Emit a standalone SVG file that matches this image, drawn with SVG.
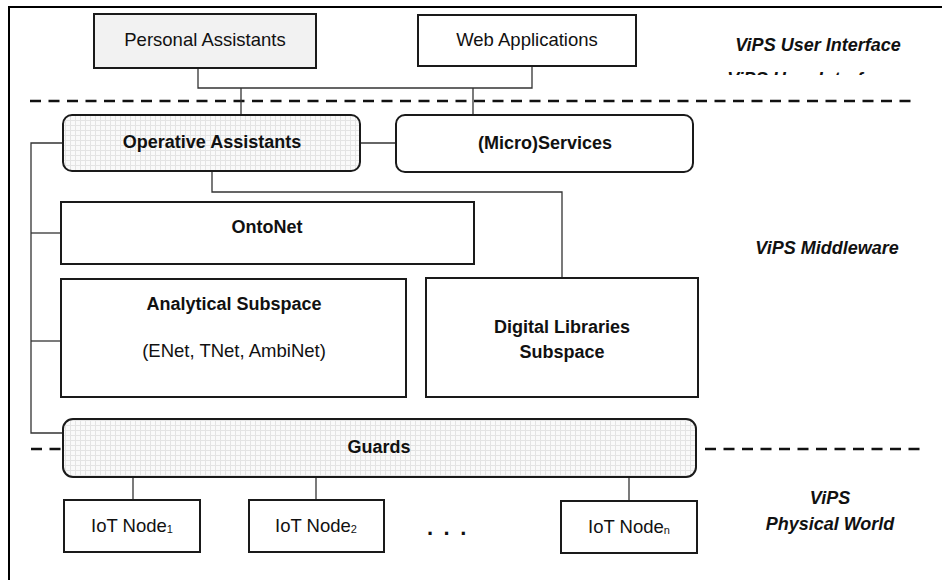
<svg xmlns="http://www.w3.org/2000/svg" width="942" height="580" viewBox="0 0 942 580">
  <defs>
    <pattern id="grid" width="5" height="5" patternUnits="userSpaceOnUse">
      <rect width="5" height="5" fill="#fafafa"/>
      <path d="M0 0.5 H5 M0.5 0 V5" stroke="#e4e4e4" stroke-width="1" fill="none"/>
    </pattern>
    <clipPath id="clipGhost">
      <rect x="700" y="70" width="220" height="5"/>
    </clipPath>
  </defs>
  <style>
    .box { fill: #ffffff; stroke: #1a1a1a; stroke-width: 2; }
    .gray { fill: #f2f2f2; }
    .mesh { fill: url(#grid); }
    .conn { stroke: #333333; stroke-width: 1.3; fill: none; }
    .dash { stroke: #111111; stroke-width: 2.5; stroke-dasharray: 11 7.5; fill: none; }
    .frame { stroke: #000000; stroke-width: 2; fill: none; }
    .t { font-family: "Liberation Sans", Arial, sans-serif; font-size: 18.5px; fill: #111111; text-anchor: middle; }
    .b { font-weight: bold; font-size: 18px; }
    .lbl { font-family: "Liberation Sans", Arial, sans-serif; font-size: 18px; font-weight: bold; font-style: italic; fill: #111111; text-anchor: middle; }
    .sub { font-size: 11px; }
    .dots { font-family: "Liberation Sans", Arial, sans-serif; font-size: 22px; font-weight: bold; fill: #111111; letter-spacing: 2.2px; }
  </style>

  <!-- frame -->
  <path class="frame" d="M9 580 V7 H942"/>

  <!-- layer separators -->
  <line class="dash" x1="30" y1="101" x2="916" y2="101"/>
  <line class="dash" x1="31" y1="449" x2="63" y2="449"/>
  <line class="dash" x1="705" y1="449" x2="920" y2="449"/>

  <!-- connectors -->
  <g id="connectors">
    <path class="conn" d="M198 68 V88 H532 V66"/>
    <path class="conn" d="M241 88 V115"/>
    <path class="conn" d="M473 88 V115"/>
    <path class="conn" d="M360 143 H396"/>
    <path class="conn" d="M63 143 H31 V433 H63"/>
    <path class="conn" d="M31 233 H61"/>
    <path class="conn" d="M31 341 H61"/>
    <path class="conn" d="M212 171 V192 H562 V278"/>
    <path class="conn" d="M133 477 V500"/>
    <path class="conn" d="M316 477 V500"/>
    <path class="conn" d="M629 477 V501"/>
  </g>

  <g id="personal-assistants">
    <rect class="box gray" x="94" y="14" width="222" height="54"/>
    <text class="t" x="205" y="46">Personal Assistants</text>
  </g>
  <g id="web-applications">
    <rect class="box" x="418" y="15" width="218" height="51"/>
    <text class="t" x="527" y="46">Web Applications</text>
  </g>

  <g id="operative-assistants">
    <rect class="box mesh" x="63" y="115" width="297" height="56" rx="9"/>
    <text class="t b" x="212" y="148">Operative Assistants</text>
  </g>
  <g id="micro-services">
    <rect class="box" x="396" y="115" width="297" height="57" rx="9"/>
    <text class="t b" x="545" y="149">(Micro)Services</text>
  </g>

  <g id="ontonet">
    <rect class="box" x="61" y="202" width="413" height="62"/>
    <text class="t b" x="267" y="233">OntoNet</text>
  </g>
  <g id="analytical-subspace">
    <rect class="box" x="61" y="279" width="345" height="118"/>
    <text class="t b" x="234" y="310">Analytical Subspace</text>
    <text class="t" x="234" y="357">(ENet, TNet, AmbiNet)</text>
  </g>
  <g id="digital-libraries">
    <rect class="box" x="426" y="278" width="272" height="119"/>
    <text class="t b" x="562" y="333">Digital Libraries</text>
    <text class="t b" x="562" y="358">Subspace</text>
  </g>

  <g id="guards">
    <rect class="box mesh" x="63" y="419" width="633" height="58" rx="10"/>
    <text class="t b" x="379" y="453">Guards</text>
  </g>

  <g id="iot-node-1">
    <rect class="box" x="64" y="500" width="136" height="52"/>
    <text class="t" x="132" y="532">IoT Node<tspan class="sub" dy="1">1</tspan></text>
  </g>
  <g id="iot-node-2">
    <rect class="box" x="249" y="500" width="135" height="52"/>
    <text class="t" x="316" y="532">IoT Node<tspan class="sub" dy="1">2</tspan></text>
  </g>
  <g id="ellipsis">
    <text class="dots" x="427" y="535">. . .</text>
  </g>
  <g id="iot-node-n">
    <rect class="box" x="561" y="501" width="136" height="52"/>
    <text class="t" x="629" y="533">IoT Node<tspan class="sub" dy="1">n</tspan></text>
  </g>

  <!-- layer labels -->
  <text class="lbl" x="818" y="51">ViPS User Interface</text>
  <text class="lbl" x="810" y="85" clip-path="url(#clipGhost)">ViPS User Interface</text>
  <text class="lbl" x="827" y="254">ViPS Middleware</text>
  <text class="lbl" x="830" y="504">ViPS</text>
  <text class="lbl" x="830" y="530">Physical World</text>
</svg>
